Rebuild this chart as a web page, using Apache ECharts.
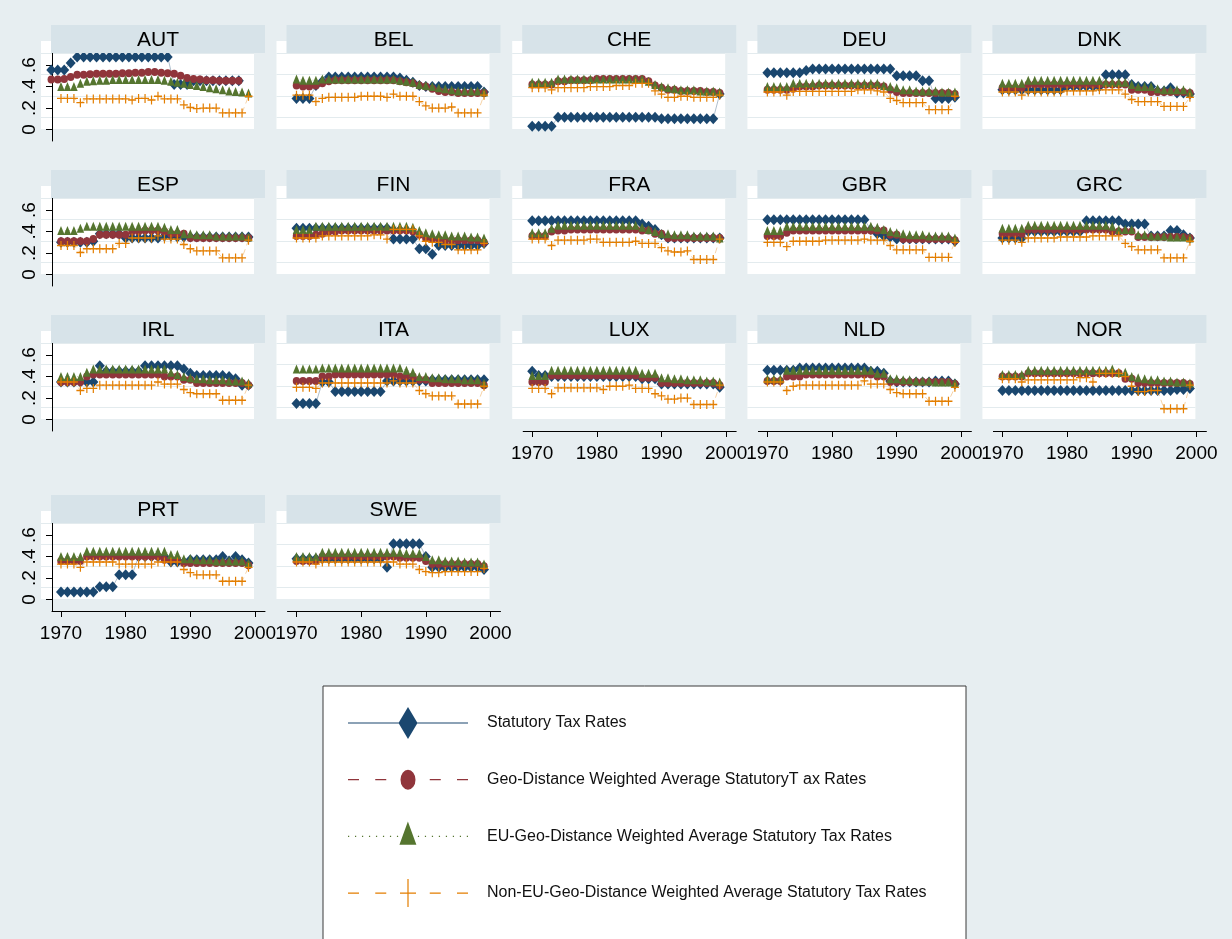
<!DOCTYPE html>
<html>
<head>
<meta charset="utf-8">
<script src="https://cdn.jsdelivr.net/npm/echarts@6/dist/echarts.min.js"></script>
<style>
html, body { margin: 0; padding: 0; background: #fff; }
#main { width: 1232px; height: 939px; }
</style>
</head>
<body>
<div id="main"></div>
<script>
var chartDom = document.getElementById('main');
var myChart = echarts.init(chartDom);
var option;

// ---- data ----
const years = [1970,1971,1972,1973,1974,1975,1976,1977,1978,1979,1980,1981,1982,1983,1984,1985,1986,1987,1988,1989,1990,1991,1992,1993,1994,1995,1996,1997,1998,1999];
// AUT statutory and geo series sit half a year left of the others in the source figure
const yearsAUT = [1968.5,1969.5,1970.5,1971.5,1972.5,1973.5,1974.5,1975.5,1976.5,1977.5,1978.5,1979.5,1980.5,1981.5,1982.5,1983.5,1984.5,1985.5,1986.5,1987.5,1988.5,1989.5,1990.5,1991.5,1992.5,1993.5,1994.5,1995.5,1996.5,1997.5];
const countries = ['AUT','BEL','CHE','DEU','DNK','ESP','FIN','FRA','GBR','GRC','IRL','ITA','LUX','NLD','NOR','PRT','SWE'];
const seriesNames = [
  'Statutory Tax Rates',
  'Geo-Distance Weighted Average StatutoryT ax Rates',
  'EU-Geo-Distance Weighted Average Statutory Tax Rates',
  'Non-EU-Geo-Distance Weighted Average Statutory Tax Rates'
];
const xTicks = [1970, 1980, 1990, 2000];
const yTicks = [0, 0.2, 0.4, 0.6];

const statAUT = [0.555,0.555,0.555,0.62,0.676,0.676,0.676,0.676,0.676,0.676,
  0.676,0.676,0.676,0.676,0.676,0.676,0.676,0.676,0.676,0.42,
  0.42,0.42,0.455,0.455,0.455,0.455,0.455,0.455,0.455,0.455];
const geoAUT = [0.465,0.465,0.47,0.49,0.51,0.51,0.515,0.52,0.52,0.52,
  0.52,0.525,0.525,0.53,0.53,0.535,0.535,0.53,0.525,0.52,
  0.5,0.48,0.47,0.465,0.46,0.46,0.455,0.455,0.455,0.455];
const euAUT = [0.40,0.40,0.40,0.43,0.45,0.455,0.46,0.46,0.465,0.465,
  0.465,0.465,0.465,0.465,0.465,0.465,0.46,0.45,0.44,0.43,
  0.42,0.41,0.40,0.39,0.38,0.37,0.36,0.355,0.35,0.34];
const noneuAUT = [0.29,0.29,0.29,0.25,0.285,0.285,0.285,0.285,0.285,0.285,
  0.285,0.275,0.29,0.29,0.275,0.31,0.285,0.285,0.285,0.23,
  0.205,0.195,0.2,0.2,0.2,0.155,0.155,0.155,0.155,0.31];

const statBEL = [0.29,0.29,0.29,0.41,0.45,0.49,0.49,0.49,0.49,0.49,
  0.49,0.49,0.49,0.49,0.49,0.49,0.48,0.46,0.44,0.41,
  0.40,0.40,0.40,0.40,0.40,0.40,0.40,0.40,0.40,0.35];
const geoBEL = [0.41,0.40,0.40,0.41,0.43,0.45,0.46,0.46,0.46,0.46,
  0.46,0.46,0.46,0.46,0.46,0.46,0.45,0.44,0.43,0.41,
  0.40,0.38,0.36,0.35,0.35,0.34,0.34,0.34,0.34,0.34];
const euBEL = [0.47,0.46,0.46,0.46,0.47,0.47,0.47,0.47,0.47,0.47,
  0.47,0.47,0.47,0.47,0.47,0.47,0.46,0.45,0.44,0.42,
  0.41,0.40,0.39,0.38,0.37,0.36,0.36,0.36,0.36,0.35];
const noneuBEL = [0.32,0.32,0.32,0.26,0.29,0.30,0.30,0.30,0.30,0.30,
  0.31,0.31,0.31,0.31,0.30,0.33,0.31,0.31,0.31,0.26,
  0.22,0.20,0.20,0.20,0.21,0.155,0.155,0.155,0.155,0.32];

const statCHE = [0.03,0.03,0.03,0.03,0.115,0.115,0.115,0.115,0.115,0.115,
  0.115,0.115,0.115,0.115,0.115,0.115,0.115,0.115,0.115,0.115,
  0.10,0.10,0.10,0.10,0.10,0.10,0.10,0.10,0.10,0.33];
const geoCHE = [0.42,0.42,0.42,0.42,0.45,0.45,0.46,0.46,0.46,0.46,
  0.47,0.47,0.47,0.47,0.47,0.47,0.47,0.47,0.45,0.41,
  0.39,0.37,0.37,0.36,0.36,0.36,0.36,0.35,0.35,0.34];
const euCHE = [0.44,0.44,0.44,0.44,0.47,0.47,0.47,0.47,0.47,0.47,
  0.47,0.47,0.47,0.47,0.47,0.47,0.47,0.47,0.45,0.42,
  0.40,0.39,0.38,0.37,0.37,0.37,0.36,0.36,0.36,0.35];
const noneuCHE = [0.39,0.39,0.39,0.37,0.39,0.39,0.39,0.39,0.39,0.40,
  0.40,0.40,0.40,0.41,0.41,0.41,0.43,0.43,0.43,0.36,
  0.33,0.30,0.30,0.31,0.31,0.30,0.30,0.30,0.30,0.32];

const statDEU = [0.53,0.53,0.53,0.53,0.53,0.53,0.55,0.565,0.565,0.565,
  0.565,0.565,0.565,0.565,0.565,0.565,0.565,0.565,0.565,0.565,
  0.50,0.50,0.50,0.50,0.455,0.455,0.29,0.29,0.29,0.30];
const geoDEU = [0.37,0.37,0.37,0.37,0.38,0.40,0.40,0.40,0.41,0.41,
  0.41,0.41,0.41,0.41,0.41,0.41,0.41,0.41,0.40,0.37,
  0.35,0.34,0.34,0.34,0.34,0.34,0.34,0.34,0.34,0.33];
const euDEU = [0.40,0.40,0.40,0.40,0.43,0.43,0.43,0.43,0.43,0.43,
  0.43,0.43,0.43,0.43,0.43,0.43,0.43,0.43,0.41,0.40,
  0.39,0.37,0.37,0.36,0.36,0.36,0.36,0.35,0.35,0.35];
const noneuDEU = [0.35,0.35,0.35,0.32,0.355,0.355,0.355,0.355,0.355,0.355,
  0.355,0.355,0.355,0.355,0.37,0.37,0.37,0.36,0.35,0.29,
  0.27,0.25,0.25,0.25,0.25,0.185,0.185,0.185,0.185,0.31];

const statDNK = [0.37,0.37,0.37,0.37,0.37,0.37,0.37,0.37,0.37,0.37,
  0.40,0.40,0.40,0.40,0.40,0.40,0.51,0.51,0.51,0.51,
  0.42,0.40,0.40,0.40,0.36,0.36,0.39,0.34,0.34,0.33];
const geoDNK = [0.39,0.39,0.39,0.39,0.42,0.42,0.42,0.42,0.42,0.42,
  0.42,0.42,0.42,0.42,0.42,0.42,0.42,0.42,0.42,0.42,
  0.37,0.37,0.37,0.35,0.35,0.35,0.35,0.35,0.35,0.34];
const euDNK = [0.43,0.43,0.43,0.43,0.46,0.46,0.46,0.46,0.46,0.46,
  0.46,0.46,0.46,0.46,0.46,0.46,0.44,0.44,0.44,0.44,
  0.42,0.40,0.40,0.40,0.38,0.37,0.37,0.37,0.37,0.35];
const noneuDNK = [0.35,0.35,0.35,0.32,0.35,0.35,0.35,0.35,0.35,0.35,
  0.36,0.36,0.36,0.36,0.36,0.37,0.37,0.37,0.37,0.33,
  0.28,0.26,0.26,0.26,0.26,0.215,0.215,0.215,0.215,0.30];

const statESP = [0.30,0.30,0.30,0.30,0.30,0.31,0.38,0.38,0.38,0.38,
  0.34,0.34,0.34,0.34,0.34,0.34,0.36,0.36,0.35,0.35,
  0.35,0.35,0.35,0.35,0.35,0.35,0.35,0.35,0.35,0.35];
const geoESP = [0.31,0.31,0.31,0.31,0.31,0.33,0.37,0.37,0.37,0.37,
  0.37,0.40,0.40,0.41,0.41,0.41,0.40,0.38,0.38,0.38,
  0.34,0.34,0.34,0.34,0.34,0.34,0.34,0.34,0.34,0.34];
const euESP = [0.41,0.41,0.41,0.43,0.45,0.45,0.45,0.45,0.45,0.45,
  0.45,0.45,0.45,0.45,0.45,0.45,0.44,0.42,0.42,0.38,
  0.38,0.37,0.37,0.37,0.36,0.36,0.36,0.36,0.36,0.35];
const noneuESP = [0.27,0.27,0.27,0.205,0.24,0.24,0.24,0.24,0.24,0.29,
  0.29,0.34,0.34,0.34,0.34,0.36,0.33,0.33,0.33,0.28,
  0.24,0.22,0.22,0.22,0.22,0.155,0.155,0.155,0.155,0.32];

const statFIN = [0.43,0.43,0.43,0.43,0.43,0.43,0.43,0.43,0.43,0.43,
  0.43,0.43,0.43,0.43,0.43,0.33,0.33,0.33,0.33,0.24,
  0.24,0.19,0.27,0.27,0.27,0.27,0.27,0.27,0.27,0.29];
const geoFIN = [0.36,0.36,0.36,0.37,0.38,0.40,0.40,0.41,0.41,0.41,
  0.41,0.41,0.41,0.41,0.41,0.41,0.41,0.41,0.40,0.37,
  0.34,0.33,0.33,0.32,0.32,0.32,0.32,0.32,0.32,0.30];
const euFIN = [0.42,0.42,0.42,0.45,0.45,0.45,0.45,0.45,0.45,0.45,
  0.45,0.45,0.45,0.45,0.45,0.45,0.45,0.45,0.44,0.41,
  0.39,0.38,0.37,0.37,0.36,0.36,0.36,0.35,0.35,0.34];
const noneuFIN = [0.34,0.34,0.34,0.34,0.36,0.36,0.36,0.36,0.36,0.36,
  0.36,0.36,0.37,0.37,0.33,0.42,0.42,0.42,0.42,0.36,
  0.31,0.30,0.30,0.28,0.28,0.23,0.23,0.23,0.23,0.29];

const statFRA = [0.50,0.50,0.50,0.50,0.50,0.50,0.50,0.50,0.50,0.50,
  0.50,0.50,0.50,0.50,0.50,0.50,0.50,0.47,0.45,0.42,
  0.37,0.34,0.34,0.34,0.34,0.34,0.34,0.34,0.34,0.34];
const geoFRA = [0.36,0.36,0.36,0.40,0.41,0.41,0.42,0.42,0.42,0.42,
  0.42,0.42,0.42,0.42,0.42,0.42,0.42,0.41,0.41,0.38,
  0.38,0.34,0.34,0.34,0.34,0.34,0.34,0.34,0.34,0.34];
const euFRA = [0.39,0.39,0.39,0.43,0.46,0.46,0.46,0.46,0.46,0.46,
  0.46,0.46,0.46,0.46,0.46,0.46,0.46,0.44,0.42,0.40,
  0.38,0.38,0.37,0.37,0.37,0.36,0.36,0.36,0.36,0.34];
const noneuFRA = [0.33,0.33,0.33,0.27,0.32,0.32,0.32,0.32,0.32,0.33,
  0.33,0.30,0.30,0.30,0.30,0.30,0.31,0.29,0.29,0.29,
  0.25,0.22,0.21,0.21,0.22,0.14,0.14,0.14,0.14,0.33];

const statGBR = [0.51,0.51,0.51,0.51,0.51,0.51,0.51,0.51,0.51,0.51,
  0.51,0.51,0.51,0.51,0.51,0.51,0.42,0.38,0.36,0.35,
  0.33,0.33,0.33,0.33,0.33,0.33,0.33,0.33,0.33,0.31];
const geoGBR = [0.36,0.36,0.36,0.39,0.41,0.41,0.41,0.41,0.41,0.41,
  0.41,0.41,0.41,0.41,0.41,0.41,0.41,0.41,0.41,0.37,
  0.37,0.33,0.33,0.33,0.33,0.33,0.33,0.33,0.33,0.32];
const euGBR = [0.41,0.41,0.41,0.45,0.45,0.45,0.45,0.45,0.45,0.45,
  0.45,0.45,0.45,0.45,0.45,0.45,0.45,0.44,0.42,0.40,
  0.39,0.38,0.37,0.37,0.37,0.36,0.36,0.36,0.36,0.34];
const noneuGBR = [0.30,0.30,0.30,0.26,0.31,0.31,0.31,0.31,0.31,0.32,
  0.32,0.32,0.32,0.32,0.32,0.33,0.32,0.32,0.32,0.27,
  0.23,0.23,0.23,0.23,0.23,0.16,0.16,0.16,0.16,0.30];

const statGRC = [0.34,0.34,0.34,0.34,0.40,0.40,0.40,0.40,0.40,0.40,
  0.40,0.40,0.40,0.50,0.50,0.50,0.50,0.50,0.50,0.47,
  0.47,0.47,0.47,0.36,0.36,0.36,0.41,0.41,0.37,0.34];
const geoGRC = [0.38,0.38,0.38,0.38,0.42,0.42,0.42,0.42,0.42,0.42,
  0.42,0.42,0.42,0.42,0.42,0.42,0.42,0.40,0.40,0.40,
  0.40,0.35,0.35,0.35,0.35,0.35,0.35,0.35,0.35,0.34];
const euGRC = [0.43,0.43,0.43,0.43,0.46,0.46,0.46,0.46,0.46,0.46,
  0.46,0.46,0.46,0.46,0.46,0.46,0.46,0.45,0.42,0.42,
  0.42,0.37,0.37,0.36,0.36,0.36,0.35,0.35,0.35,0.34];
const noneuGRC = [0.32,0.32,0.32,0.30,0.34,0.34,0.34,0.34,0.34,0.35,
  0.35,0.35,0.35,0.35,0.36,0.36,0.36,0.36,0.36,0.29,
  0.26,0.23,0.23,0.23,0.23,0.155,0.155,0.155,0.155,0.31];

const statIRL = [0.35,0.35,0.35,0.35,0.35,0.35,0.50,0.45,0.45,0.45,
  0.45,0.45,0.45,0.50,0.50,0.50,0.50,0.50,0.50,0.47,
  0.43,0.41,0.41,0.41,0.41,0.41,0.40,0.38,0.32,0.32];
const geoIRL = [0.35,0.35,0.35,0.35,0.40,0.42,0.42,0.42,0.42,0.42,
  0.42,0.42,0.42,0.42,0.42,0.42,0.40,0.40,0.40,0.37,
  0.37,0.34,0.34,0.34,0.34,0.34,0.34,0.34,0.34,0.32];
const euIRL = [0.40,0.40,0.40,0.40,0.44,0.47,0.47,0.47,0.47,0.47,
  0.47,0.47,0.47,0.47,0.47,0.47,0.47,0.44,0.42,0.40,
  0.39,0.38,0.38,0.37,0.37,0.37,0.36,0.36,0.36,0.34];
const noneuIRL = [0.35,0.35,0.35,0.27,0.29,0.29,0.32,0.32,0.32,0.32,
  0.32,0.32,0.32,0.32,0.32,0.35,0.33,0.33,0.33,0.28,
  0.25,0.24,0.24,0.24,0.24,0.18,0.18,0.18,0.18,0.32];

const statITA = [0.15,0.15,0.15,0.15,0.35,0.35,0.26,0.26,0.26,0.26,
  0.26,0.26,0.26,0.26,0.36,0.36,0.36,0.36,0.36,0.36,
  0.36,0.37,0.37,0.37,0.37,0.37,0.37,0.37,0.37,0.37];
const geoITA = [0.36,0.36,0.36,0.36,0.40,0.40,0.42,0.42,0.42,0.42,
  0.42,0.42,0.42,0.42,0.42,0.42,0.40,0.40,0.40,0.37,
  0.37,0.34,0.34,0.34,0.34,0.34,0.34,0.34,0.34,0.32];
const euITA = [0.47,0.47,0.47,0.47,0.48,0.48,0.48,0.48,0.48,0.48,
  0.48,0.48,0.48,0.48,0.48,0.48,0.48,0.46,0.44,0.40,
  0.40,0.39,0.39,0.38,0.38,0.38,0.37,0.37,0.37,0.34];
const noneuITA = [0.30,0.30,0.30,0.29,0.34,0.34,0.34,0.34,0.34,0.34,
  0.34,0.34,0.34,0.34,0.34,0.36,0.34,0.34,0.34,0.27,
  0.24,0.22,0.22,0.22,0.22,0.145,0.145,0.145,0.145,0.31];

const statLUX = [0.45,0.41,0.41,0.40,0.40,0.40,0.40,0.40,0.40,0.40,
  0.40,0.40,0.40,0.40,0.40,0.40,0.40,0.38,0.38,0.38,
  0.33,0.33,0.33,0.33,0.33,0.33,0.33,0.33,0.33,0.30];
const geoLUX = [0.35,0.35,0.35,0.41,0.41,0.41,0.41,0.41,0.41,0.41,
  0.41,0.41,0.41,0.41,0.41,0.41,0.41,0.39,0.39,0.39,
  0.34,0.34,0.34,0.34,0.34,0.34,0.34,0.34,0.34,0.32];
const euLUX = [0.41,0.41,0.41,0.46,0.46,0.46,0.46,0.46,0.46,0.46,
  0.46,0.46,0.46,0.46,0.46,0.46,0.46,0.43,0.43,0.43,
  0.39,0.39,0.38,0.38,0.37,0.37,0.37,0.36,0.36,0.35];
const noneuLUX = [0.29,0.29,0.29,0.24,0.295,0.295,0.295,0.295,0.295,0.295,
  0.295,0.28,0.31,0.31,0.31,0.32,0.29,0.29,0.29,0.24,
  0.22,0.19,0.19,0.20,0.20,0.14,0.14,0.14,0.14,0.32];

const statNLD = [0.46,0.46,0.46,0.46,0.46,0.48,0.48,0.48,0.48,0.48,
  0.48,0.48,0.48,0.48,0.48,0.48,0.45,0.45,0.43,0.36,
  0.35,0.35,0.35,0.35,0.35,0.35,0.36,0.36,0.36,0.33];
const geoNLD = [0.36,0.36,0.36,0.40,0.40,0.40,0.42,0.42,0.42,0.42,
  0.42,0.42,0.42,0.42,0.42,0.42,0.42,0.40,0.40,0.35,
  0.35,0.35,0.35,0.35,0.35,0.35,0.35,0.35,0.35,0.33];
const euNLD = [0.38,0.38,0.38,0.46,0.46,0.46,0.46,0.46,0.46,0.46,
  0.46,0.46,0.46,0.46,0.46,0.46,0.46,0.43,0.43,0.38,
  0.38,0.37,0.37,0.36,0.36,0.36,0.35,0.35,0.35,0.34];
const noneuNLD = [0.35,0.35,0.35,0.27,0.31,0.32,0.32,0.32,0.32,0.32,
  0.32,0.32,0.32,0.32,0.32,0.36,0.33,0.33,0.33,0.28,
  0.25,0.24,0.24,0.24,0.24,0.17,0.17,0.17,0.17,0.30];

const statNOR = [0.27,0.27,0.27,0.27,0.27,0.27,0.27,0.27,0.27,0.27,
  0.27,0.27,0.27,0.27,0.27,0.27,0.27,0.27,0.27,0.27,
  0.27,0.27,0.27,0.27,0.27,0.27,0.27,0.28,0.28,0.29];
const geoNOR = [0.40,0.40,0.40,0.40,0.43,0.43,0.43,0.43,0.43,0.43,
  0.43,0.43,0.43,0.43,0.43,0.43,0.43,0.43,0.43,0.38,
  0.38,0.34,0.34,0.34,0.34,0.34,0.34,0.34,0.34,0.33];
const euNOR = [0.42,0.42,0.42,0.42,0.46,0.46,0.46,0.46,0.46,0.46,
  0.46,0.46,0.46,0.46,0.46,0.46,0.46,0.47,0.44,0.44,
  0.40,0.39,0.38,0.37,0.37,0.36,0.36,0.35,0.35,0.34];
const noneuNOR = [0.38,0.38,0.38,0.35,0.37,0.37,0.37,0.37,0.37,0.37,
  0.37,0.37,0.39,0.39,0.35,0.43,0.43,0.43,0.43,0.40,
  0.31,0.26,0.26,0.27,0.27,0.10,0.10,0.10,0.10,0.32];

const statPRT = [0.07,0.07,0.07,0.07,0.07,0.07,0.12,0.12,0.12,0.23,
  0.23,0.23,0.40,0.40,0.40,0.40,0.40,0.35,0.35,0.35,
  0.37,0.37,0.37,0.37,0.37,0.40,0.36,0.40,0.37,0.34];
const geoPRT = [0.36,0.36,0.36,0.36,0.40,0.40,0.40,0.40,0.40,0.40,
  0.40,0.40,0.40,0.40,0.40,0.40,0.37,0.37,0.37,0.34,
  0.34,0.34,0.34,0.34,0.34,0.34,0.34,0.34,0.34,0.32];
const euPRT = [0.40,0.40,0.40,0.40,0.45,0.45,0.45,0.45,0.45,0.45,
  0.45,0.45,0.45,0.45,0.45,0.45,0.45,0.42,0.42,0.38,
  0.38,0.37,0.37,0.37,0.36,0.36,0.36,0.36,0.36,0.34];
const noneuPRT = [0.33,0.33,0.33,0.30,0.35,0.35,0.35,0.35,0.35,0.33,
  0.33,0.33,0.33,0.33,0.33,0.35,0.35,0.35,0.35,0.28,
  0.25,0.23,0.23,0.23,0.23,0.17,0.17,0.17,0.17,0.30];

const statSWE = [0.38,0.38,0.38,0.38,0.38,0.38,0.38,0.38,0.38,0.38,
  0.38,0.38,0.38,0.38,0.30,0.52,0.52,0.52,0.52,0.52,
  0.40,0.30,0.30,0.30,0.30,0.30,0.30,0.30,0.30,0.28];
const geoSWE = [0.36,0.36,0.36,0.36,0.40,0.40,0.40,0.40,0.40,0.40,
  0.40,0.40,0.40,0.40,0.40,0.40,0.39,0.39,0.39,0.39,
  0.36,0.33,0.33,0.33,0.33,0.33,0.33,0.33,0.33,0.31];
const euSWE = [0.40,0.40,0.40,0.40,0.44,0.44,0.44,0.44,0.44,0.44,
  0.44,0.44,0.44,0.44,0.44,0.44,0.44,0.43,0.43,0.43,
  0.40,0.37,0.37,0.36,0.36,0.36,0.35,0.35,0.35,0.33];
const noneuSWE = [0.35,0.35,0.35,0.33,0.35,0.35,0.35,0.35,0.35,0.35,
  0.35,0.35,0.35,0.35,0.35,0.35,0.33,0.33,0.33,0.28,
  0.26,0.25,0.25,0.26,0.26,0.26,0.26,0.26,0.26,0.29];

const panelData = {
  AUT: [statAUT, geoAUT, euAUT, noneuAUT], BEL: [statBEL, geoBEL, euBEL, noneuBEL],
  CHE: [statCHE, geoCHE, euCHE, noneuCHE], DEU: [statDEU, geoDEU, euDEU, noneuDEU],
  DNK: [statDNK, geoDNK, euDNK, noneuDNK], ESP: [statESP, geoESP, euESP, noneuESP],
  FIN: [statFIN, geoFIN, euFIN, noneuFIN], FRA: [statFRA, geoFRA, euFRA, noneuFRA],
  GBR: [statGBR, geoGBR, euGBR, noneuGBR], GRC: [statGRC, geoGRC, euGRC, noneuGRC],
  IRL: [statIRL, geoIRL, euIRL, noneuIRL], ITA: [statITA, geoITA, euITA, noneuITA],
  LUX: [statLUX, geoLUX, euLUX, noneuLUX], NLD: [statNLD, geoNLD, euNLD, noneuNLD],
  NOR: [statNOR, geoNOR, euNOR, noneuNOR], PRT: [statPRT, geoPRT, euPRT, noneuPRT],
  SWE: [statSWE, geoSWE, euSWE, noneuSWE]
};

// ---- look ----
const colors = ['#1a476f', '#90353b', '#55752f', '#e37e00'];
const plusPath = 'path://M3.4,0h1.2v3.4h3.4v1.2h-3.4v3.4h-1.2v-3.4h-3.4v-1.2h3.4z';
const symbols = ['diamond', 'circle', 'triangle', plusPath];
const symbolSizes = [[10, 11], [7.5, 8], [7.5, 9], [8, 9]];
const lineTypes = ['solid', [6, 4], [1, 3], [6, 4]];
const font = 'Liberation Sans';
const bgColor = '#e7eef1';
const stripColor = '#d7e3e9';

const colLeft = [52, 287.5, 523.2, 758.4, 993.4];
const rowTop = [25, 170, 315, 495];
const stripH = 28, plotW = 213, plotH = 88;
const yMin = -0.107, yMax = 0.713;
const xMin = 1968.61, xMax = 2001.55;

// legend icons: line + marker drawn as one filled path (120 x 32 box)
const anchors = ' M0,0h0.01v0.01h-0.01z M119.99,31.99h0.01v0.01h-0.01z';
const dashes = 'M0,15.4H11V16.6H0Z M27.25,15.4H38.25V16.6H27.25Z M81.75,15.4H92.75V16.6H81.75Z M109,15.4H120V16.6H109Z';
let dots = '';
for (let d = 0; d <= 119; d += 7) dots += 'M' + d + ',15.4h1.2v1.2h-1.2z ';
const legendIcons = [
  'path://M0,15.4H51V16.6H0Z M69,15.4H120V16.6H69Z M60,0L69.5,16L60,32L50.5,16Z' + anchors,
  'path://' + dashes + ' M52.5,16A7.5,10,0,1,0,67.5,16A7.5,10,0,1,0,52.5,16Z' + anchors,
  'path://' + dots + 'M60,1L68.5,24.5L51.5,24.5Z' + anchors,
  'path://' + dashes + ' M59.4,2H60.6V30H59.4Z M52,15.4H68V16.6H52Z' + anchors
];

option = {
  backgroundColor: bgColor,
  animation: false,
  grid: [], xAxis: [], yAxis: [], series: [],
  graphic: [
    { type: 'rect', shape: { x: 323, y: 686, width: 643, height: 270 },
      style: { fill: '#fff', stroke: '#3a3a3a', lineWidth: 1 }, z: 1 }
  ],
  legend: {
    orient: 'vertical', left: 348, top: 707, padding: 0,
    itemWidth: 120, itemHeight: 32, itemGap: 24.7,
    selectedMode: false, z: 5,
    textStyle: { fontFamily: font, fontSize: 16, color: '#111', padding: [0, 0, 0, 14] },
    data: seriesNames.map(function (n, k) {
      return { name: n, icon: legendIcons[k], itemStyle: { color: colors[k] } };
    })
  }
};

countries.forEach(function (c, p) {
  var r = p < 15 ? Math.floor(p / 5) : 3;
  var col = p < 15 ? p % 5 : p - 15;
  var L = colLeft[col], T = rowTop[r] + stripH;
  var showY = col === 0;
  var showX = (col < 2 && r === 3) || (col >= 2 && r === 2);

  // shaded plot region with grid lines (sits offset from the axes, as in the source)
  var gb = option.grid.length;
  option.grid.push({ left: L - 11, top: T - 12, width: plotW, height: plotH,
    show: true, backgroundColor: '#fff', borderWidth: 0 });
  option.xAxis.push({ gridIndex: gb, type: 'value', min: 0, max: 1, show: false });
  option.yAxis.push({ gridIndex: gb, type: 'value', min: yMin, max: yMax,
    axisLine: { show: false }, axisTick: { show: false, customValues: yTicks },
    axisLabel: { show: false, customValues: yTicks },
    splitLine: { show: true, lineStyle: { color: '#e3ebee', width: 1 } } });

  // data grid
  var gd = option.grid.length;
  option.grid.push({ left: L, top: T, width: plotW, height: plotH, show: false });
  option.xAxis.push({ gridIndex: gd, type: 'value', min: xMin, max: xMax,
    axisLine: { show: showX, onZero: false, lineStyle: { color: '#000', width: 1 } },
    axisTick: { show: showX, length: 6, customValues: xTicks, lineStyle: { color: '#000' } },
    axisLabel: { show: showX, customValues: xTicks, margin: 13, color: '#000',
      fontFamily: font, fontSize: 19, formatter: function (v) { return String(v); } },
    splitLine: { show: false } });
  option.yAxis.push({ gridIndex: gd, type: 'value', min: yMin, max: yMax,
    axisLine: { show: showY, onZero: false, lineStyle: { color: '#000', width: 1 } },
    axisTick: { show: showY, length: 6, customValues: yTicks, lineStyle: { color: '#000' } },
    axisLabel: { show: showY, customValues: yTicks, rotate: 90, margin: 13, color: '#000',
      fontFamily: font, fontSize: 19,
      formatter: function (v) { return v === 0 ? '0' : String(v).replace(/^0/, ''); } },
    splitLine: { show: false } });

  // strip title
  option.graphic.push({ type: 'rect', shape: { x: L - 1, y: rowTop[r], width: plotW + 1, height: stripH },
    style: { fill: stripColor }, z: 100 });
  option.graphic.push({ type: 'text', x: L - 1 + (plotW + 1) / 2, y: rowTop[r] + stripH / 2 + 1,
    style: { text: c, fill: '#000', font: '21px "' + font + '"', textAlign: 'center', textVerticalAlign: 'middle' },
    z: 101 });

  var sets = panelData[c];
  for (var k = 0; k < 4; k++) {
    var xs = (c === 'AUT' && k < 2) ? yearsAUT : years;
    var vals = sets[k];
    option.series.push({
      type: 'line', name: seriesNames[k], xAxisIndex: gd, yAxisIndex: gd,
      data: xs.map(function (x, i) { return [x, vals[i]]; }),
      symbol: symbols[k], symbolSize: symbolSizes[k], showAllSymbol: true,
      itemStyle: { color: colors[k] },
      lineStyle: { color: colors[k], width: 1, opacity: 0.35, type: lineTypes[k] },
      emphasis: { disabled: true }, clip: false, silent: true
    });
  }
});

option && myChart.setOption(option);
</script>
</body>
</html>
